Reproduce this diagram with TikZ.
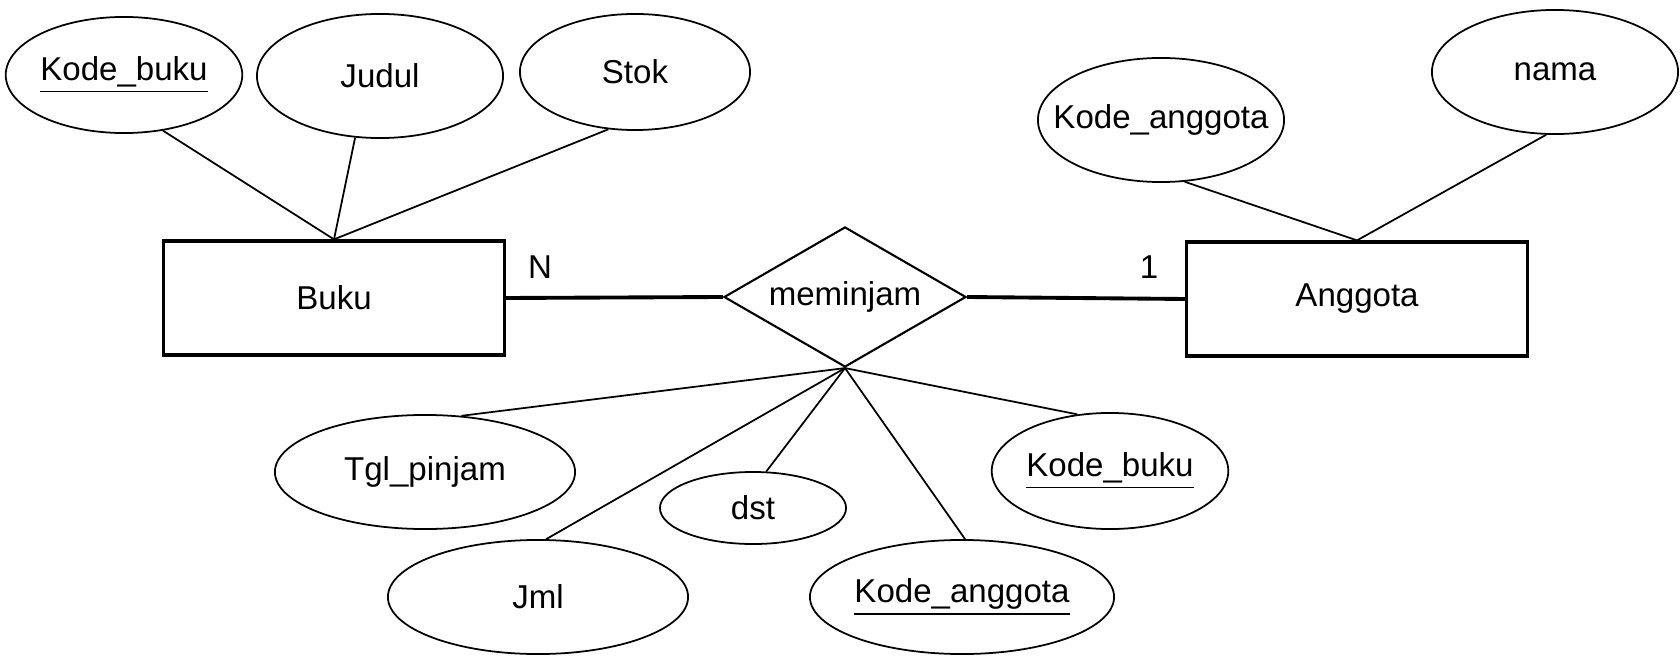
\documentclass[tikz,border=0pt]{standalone}
\usepackage{fontspec}
\setmainfont{Liberation Sans}
\usetikzlibrary{shapes.geometric}
\begin{document}
\begin{tikzpicture}[x=0.01cm,y=-0.01cm,font=\fontsize{9.4pt}{11pt}\selectfont,
  attr/.style={shape=ellipse,draw=black,line width=0.5pt,inner sep=0pt},
  attrS/.style={attr,minimum width=2.30cm,minimum height=1.16cm},
  attrL/.style={attr,minimum width=2.46cm,minimum height=1.24cm},
  attrW/.style={attr,minimum width=3.00cm,minimum height=1.14cm},
  entity/.style={shape=rectangle,draw=black,line width=0.9pt,minimum width=3.41cm,minimum height=1.14cm},
  rel/.style={shape=diamond,draw=black,line width=0.6pt,inner sep=0pt,aspect=1.73,minimum width=2.42cm,minimum height=1.40cm},
  link/.style={line width=0.5pt},
  card/.style={line width=1.1pt}]
\useasboundingbox (0,0) rectangle (1680,655);

\node[entity] (buku) at (334,298) {Buku};
\node[entity] (anggota) at (1357,299) {Anggota};
\node[rel] (pinjam) at (845,297) {meminjam};

\node[attrS] (kbuku) at (124,75) {\underline{Kode\_buku}};
\node[attrL] (judul) at (380,76) {Judul};
\node[attrS] (stok) at (635,72) {Stok};
\draw[link] (kbuku.305) -- (buku.north);
\draw[link] (judul.248) -- (buku.north);
\draw[link] (stok.245) -- (buku.north);

\node[attrL,label=center:{Kode\_anggota}] (kanggota) at (1161,120) {};
\node[attrL] (nama) at (1555,72) {nama};
\draw[link] (kanggota.291) -- (anggota.north);
\draw[link] (nama.262) -- (anggota.north);

\draw[card] (buku.east) -- (pinjam.west);
\draw[card] (pinjam.east) -- (anggota.west);
\node (N) at (540,267) {N};
\node (one) at (1149,267) {1};

\node[attrW] (tgl) at (425,472) {Tgl\_pinjam};
\node[attr,minimum width=1.86cm,minimum height=0.72cm] (dst) at (753,508) {dst};
\node[attrW] (jml) at (538,597) {Jml};
\node[attrW] (kanggota2) at (962,597) {\underline{Kode\_anggota}};
\node[attrS] (kbuku2) at (1110,471) {\underline{Kode\_buku}};
\draw[link] (pinjam.south) -- (tgl.57);
\draw[link] (pinjam.south) -- (jml.82);
\draw[link] (pinjam.south) -- (dst.70);
\draw[link] (pinjam.south) -- (kanggota2.87);
\draw[link] (pinjam.south) -- (kbuku2.120);
\end{tikzpicture}
\end{document}
